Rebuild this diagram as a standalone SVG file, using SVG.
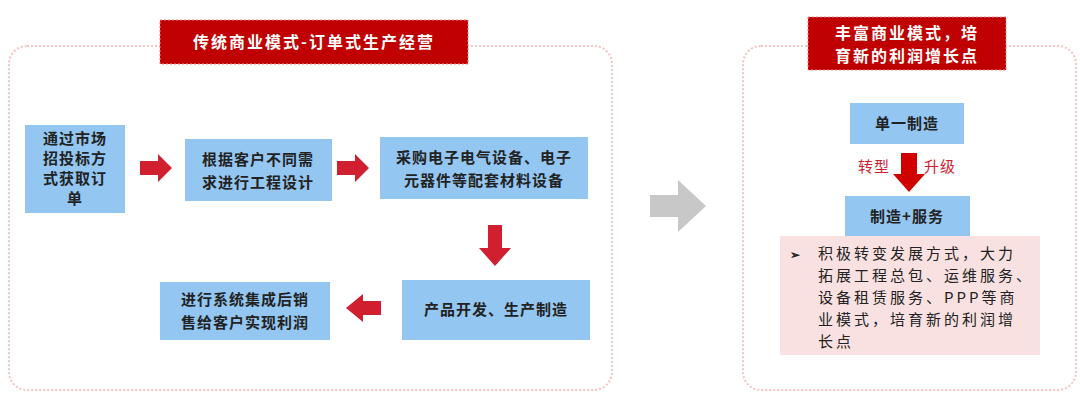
<svg xmlns="http://www.w3.org/2000/svg" width="1080" height="400" viewBox="0 0 1080 400">
<style>
text{font-family:"Noto Sans CJK SC","Liberation Sans",sans-serif;font-size:15px;fill:#222;font-weight:bold;letter-spacing:1px}
.panel{fill:#fff;stroke:#f6c4c4;stroke-width:2;stroke-dasharray:2 2}
.title{fill:#c00000;stroke:#e88;stroke-dasharray:2 2}
.tt{fill:#fff;font-size:16px;letter-spacing:2px}
.box{fill:#93c6f1}
.ar{fill:#d02030}
.red{fill:#d02030;font-weight:normal}
.pk{letter-spacing:3px;font-weight:normal}
</style>
<rect x="0" y="0" width="1080" height="400" fill="#fff"/>
<rect class="panel" x="9" y="46" width="603" height="344" rx="18"/>
<rect class="panel" x="743" y="46" width="333" height="344" rx="18"/>
<g id="title1"><rect class="title" x="160" y="20" width="308" height="44"/><text class="tt" x="314" y="48" text-anchor="middle">传统商业模式-订单式生产经营</text></g>
<g id="title2"><rect class="title" x="808" y="17" width="198" height="53"/><text class="tt" x="907" y="39" text-anchor="middle">丰富商业模式，培</text><text class="tt" x="907" y="62" text-anchor="middle">育新的利润增长点</text></g>
<g id="n1"><rect class="box" x="25" y="125" width="100" height="88"/><text x="75" y="144" text-anchor="middle">通过市场</text><text x="75" y="164" text-anchor="middle">招投标方</text><text x="75" y="184" text-anchor="middle">式获取订</text><text x="75" y="204" text-anchor="middle">单</text></g>
<g id="n2"><rect class="box" x="185" y="139" width="147" height="62"/><text x="258" y="165" text-anchor="middle">根据客户不同需</text><text x="258" y="188" text-anchor="middle">求进行工程设计</text></g>
<g id="n3"><rect class="box" x="380" y="137" width="208" height="62"/><text x="484" y="163" text-anchor="middle">采购电子电气设备、电子</text><text x="484" y="186" text-anchor="middle">元器件等配套材料设备</text></g>
<g id="n4"><rect class="box" x="402" y="280" width="188" height="60"/><text x="496" y="315" text-anchor="middle">产品开发、生产制造</text></g>
<g id="n5"><rect class="box" x="160" y="282" width="170" height="58"/><text x="245" y="305" text-anchor="middle">进行系统集成后销</text><text x="245" y="328" text-anchor="middle">售给客户实现利润</text></g>
<g id="n6"><rect class="box" x="850" y="103" width="114" height="41"/><text x="907" y="129" text-anchor="middle">单一制造</text></g>
<g id="n7"><rect class="box" x="845" y="196" width="125" height="40"/><text x="907" y="222" text-anchor="middle">制造+服务</text></g>
<g id="n8"><rect x="780" y="236" width="260" height="119" fill="#f9e1e1"/>
<text x="790" y="259" style="font-size:12px">➢</text>
<text class="pk" x="818" y="259">积极转变发展方式，大力</text>
<text class="pk" x="818" y="281">拓展工程总包、运维服务、</text>
<text class="pk" x="818" y="303">设备租赁服务、PPP等商</text>
<text class="pk" x="818" y="325">业模式，培育新的利润增</text>
<text class="pk" x="818" y="347">长点</text></g>
<g id="connectors">
<polygon class="ar" points="140,161 158,161 158,154 172,168 158,182 158,175 140,175"/>
<polygon class="ar" points="337,161 355,161 355,154 369,168 355,182 355,175 337,175"/>
<polygon class="ar" points="488,225 502,225 502,248 511,248 495,266 479,248 488,248"/>
<polygon class="ar" points="381,301 363,301 363,294 346,308 363,322 363,315 381,315"/>
<polygon fill="#c8c8c8" points="650,195 678,195 678,180 706,206 678,232 678,217 650,217"/>
<polygon fill="#d00000" points="901,153 917,153 917,174 925,174 909,192 893,174 901,174"/>
<text class="red" x="858" y="172">转型</text><text class="red" x="924" y="172">升级</text>
</g>
</svg>
